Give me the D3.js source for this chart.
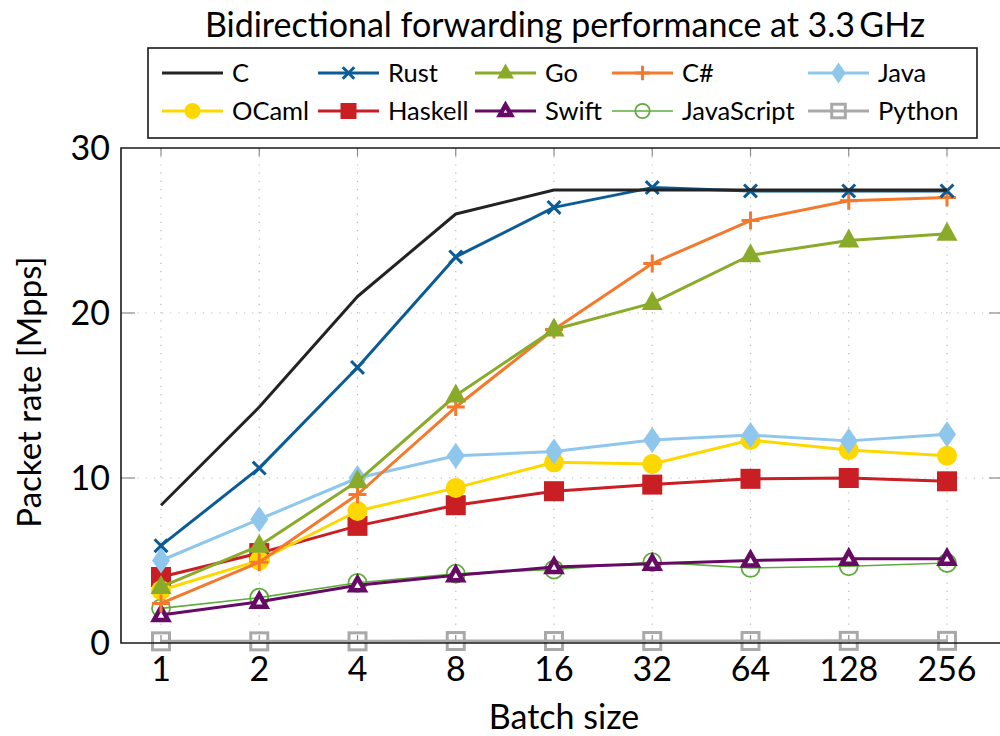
<!DOCTYPE html>
<html>
<head>
  <meta charset="utf-8">
  <style type="text/css">
    body { margin: 0; background: #fff; }
    svg { display: block; font-family: "Lato", "Liberation Sans", sans-serif; }
    .grid line { stroke: #b8b8b8; stroke-width: 1.2; stroke-dasharray: 1.2,7; }
  </style>
  <script src="https://d3js.org/d3.v7.min.js"></script>
</head>
<body>
<script type="text/javascript">
  "use strict";

  // data (Mpps)
  var batchSizes = [1, 2, 4, 8, 16, 32, 64, 128, 256];
  var yTicks = [0, 10, 20, 30];

  var cRate          = [8.35, 14.3, 21.0, 26.0, 27.45, 27.45, 27.45, 27.45, 27.45];
  var rustRate       = [5.9, 10.6, 16.7, 23.4, 26.4, 27.6, 27.4, 27.4, 27.4];
  var goRate         = [3.4, 5.9, 9.8, 15.0, 19.0, 20.6, 23.5, 24.4, 24.8];
  var csharpRate     = [2.4, 4.9, 9.0, 14.3, 19.0, 23.0, 25.6, 26.8, 27.0];
  var javaRate       = [5.0, 7.5, 10.0, 11.35, 11.6, 12.3, 12.6, 12.25, 12.65];
  var ocamlRate      = [3.2, 5.0, 8.0, 9.4, 10.95, 10.85, 12.3, 11.7, 11.35];
  var haskellRate    = [4.0, 5.45, 7.1, 8.35, 9.2, 9.6, 9.95, 10.0, 9.8];
  var swiftRate      = [1.7, 2.5, 3.5, 4.1, 4.6, 4.8, 5.0, 5.1, 5.1];
  var javascriptRate = [2.1, 2.75, 3.65, 4.2, 4.45, 4.9, 4.55, 4.65, 4.85];
  var pythonRate     = [0.1, 0.1, 0.1, 0.12, 0.12, 0.12, 0.12, 0.13, 0.13];

  var series = [
    { name: "C",          values: cRate,          color: "#232323", mark: "none",     width: 3 },
    { name: "Rust",       values: rustRate,       color: "#0b5c96", mark: "x",        width: 3 },
    { name: "Go",         values: goRate,         color: "#8aab2a", mark: "triangle", width: 3 },
    { name: "C#",         values: csharpRate,     color: "#f5792c", mark: "plus",     width: 3 },
    { name: "Java",       values: javaRate,       color: "#8ec6ec", mark: "diamond",  width: 3 },
    { name: "OCaml",      values: ocamlRate,      color: "#fcd800", mark: "circle",   width: 3 },
    { name: "Haskell",    values: haskellRate,    color: "#c81e24", mark: "square",   width: 3 },
    { name: "Swift",      values: swiftRate,      color: "#660a66", mark: "otriangle",width: 3 },
    { name: "JavaScript", values: javascriptRate, color: "#5eac3c", mark: "ocircle",  width: 1.6 },
    { name: "Python",     values: pythonRate,     color: "#a9a9a9", mark: "osquare",  width: 3 }
  ];

  var W = 1000, H = 736;
  var box = { left: 121, right: 1003, top: 148, bottom: 643 };

  var svg = d3.select("body").append("svg")
      .attr("width", W)
      .attr("height", H);

  var x = d3.scalePoint().domain(batchSizes).range([161, 947]);
  var y = d3.scaleLinear().domain([0, 30]).range([box.bottom, box.top]);

  // grid
  var grid = svg.append("g").attr("class", "grid");
  grid.selectAll("line.gx").data(batchSizes).enter().append("line")
      .attr("x1", function(d){ return x(d); }).attr("x2", function(d){ return x(d); })
      .attr("y1", box.top).attr("y2", box.bottom);
  grid.selectAll("line.gy").data([10, 20]).enter().append("line")
      .attr("x1", box.left).attr("x2", box.right)
      .attr("y1", function(d){ return y(d); }).attr("y2", function(d){ return y(d); });

  // little tick marks on the inside of the frame
  var ticks = svg.append("g").attr("stroke", "#8a8a8a").attr("stroke-width", 1.2);
  batchSizes.forEach(function(b) {
    ticks.append("line").attr("x1", x(b)).attr("x2", x(b)).attr("y1", box.top).attr("y2", box.top + 8);
    ticks.append("line").attr("x1", x(b)).attr("x2", x(b)).attr("y1", box.bottom).attr("y2", box.bottom - 8);
  });
  [10, 20].forEach(function(v) {
    ticks.append("line").attr("x1", box.left).attr("x2", box.left + 14).attr("y1", y(v)).attr("y2", y(v));
    ticks.append("line").attr("x1", box.right).attr("x2", box.right - 14).attr("y1", y(v)).attr("y2", y(v));
  });

  // marker drawing
  function drawMark(g, mark, color, cx, cy, scale) {
    var s = scale || 1;
    if (mark === "x") {
      g.append("path").attr("d", d3.symbol().type(d3.symbolX).size(110 * s)())
        .attr("transform", "translate(" + cx + "," + cy + ")")
        .attr("stroke", color).attr("stroke-width", 3).attr("fill", "none");
    } else if (mark === "plus") {
      g.append("path").attr("d", "M-9,0H9M0,-9V9")
        .attr("transform", "translate(" + cx + "," + cy + ") scale(" + s + ")")
        .attr("stroke", color).attr("stroke-width", 3 / s).attr("fill", "none");
    } else if (mark === "triangle") {
      g.append("path").attr("d", "M0,-12L10.5,7L-10.5,7Z")
        .attr("transform", "translate(" + cx + "," + cy + ") scale(" + s + ")")
        .attr("fill", color);
    } else if (mark === "otriangle") {
      g.append("path").attr("d", "M0,-7.5L7,5L-7,5Z")
        .attr("transform", "translate(" + cx + "," + cy + ") scale(" + s + ")")
        .attr("fill", "#fff").attr("stroke", color).attr("stroke-width", 4.5 / s)
        .attr("stroke-linejoin", "miter");
    } else if (mark === "diamond") {
      g.append("path").attr("d", "M0,-13L9,0L0,13L-9,0Z")
        .attr("transform", "translate(" + cx + "," + cy + ") scale(" + s + ")")
        .attr("fill", color);
    } else if (mark === "circle") {
      g.append("circle").attr("cx", cx).attr("cy", cy).attr("r", 10 * s).attr("fill", color);
    } else if (mark === "ocircle") {
      g.append("circle").attr("cx", cx).attr("cy", cy).attr("r", 9 * s)
        .attr("fill", "none").attr("stroke", color).attr("stroke-width", 1.8);
    } else if (mark === "square") {
      g.append("rect").attr("x", cx - 10 * s).attr("y", cy - 10 * s)
        .attr("width", 20 * s).attr("height", 20 * s).attr("fill", color);
    } else if (mark === "osquare") {
      g.append("rect").attr("x", cx - 8.5 * s).attr("y", cy - 8.5 * s)
        .attr("width", 17 * s).attr("height", 17 * s)
        .attr("fill", "none").attr("stroke", color).attr("stroke-width", 3);
    }
  }

  // series lines and marks
  var line = d3.line()
      .x(function(d, i){ return x(batchSizes[i]); })
      .y(function(d){ return y(d); });

  var plot = svg.append("g");
  // draw in reverse so C / Rust end up on top like the original
  series.slice().reverse().forEach(function(s) {
    var g = plot.append("g");
    g.append("path").datum(s.values)
      .attr("d", line)
      .attr("fill", "none")
      .attr("stroke", s.color)
      .attr("stroke-width", s.width)
      .attr("stroke-linejoin", "round");
    s.values.forEach(function(v, i) {
      drawMark(g, s.mark, s.color, x(batchSizes[i]), y(v));
    });
  });

  // frame
  svg.append("path")
    .attr("d", "M" + box.right + "," + box.top + "H" + box.left + "V" + box.bottom + "H" + box.right)
    .attr("fill", "none").attr("stroke", "#1a1a1a").attr("stroke-width", 1.6);

  // axis labels
  svg.append("g").selectAll("text").data(yTicks).enter().append("text")
      .attr("x", 110).attr("y", function(d){ return y(d) + 12; })
      .attr("text-anchor", "end")
      .attr("font-size", 34)
      .text(function(d){ return d; });

  svg.append("g").selectAll("text").data(batchSizes).enter().append("text")
      .attr("x", function(d){ return x(d); }).attr("y", 681)
      .attr("text-anchor", "middle")
      .attr("font-size", 34)
      .text(function(d){ return d; });

  svg.append("text")
      .attr("x", 564).attr("y", 729)
      .attr("text-anchor", "middle")
      .attr("font-size", 34)
      .text("Batch size");

  svg.append("text")
      .attr("transform", "translate(41,392) rotate(-90)")
      .attr("text-anchor", "middle")
      .attr("font-size", 33)
      .text("Packet rate [Mpps]");

  svg.append("text")
      .attr("x", 565).attr("y", 37)
      .attr("text-anchor", "middle")
      .attr("font-size", 34)
      .text("Bidirectional forwarding performance at 3.3\u2009GHz");

  // legend
  var legend = svg.append("g");
  legend.append("rect")
      .attr("x", 148).attr("y", 48).attr("width", 829).attr("height", 90)
      .attr("fill", "#fff").attr("stroke", "#1a1a1a").attr("stroke-width", 1.6);

  var colX = [162, 318, 475, 612, 808];
  var rowY = [73, 111];
  series.forEach(function(s, i) {
    var lx = colX[i % 5], ly = rowY[Math.floor(i / 5)];
    var g = legend.append("g");
    g.append("line").attr("x1", lx).attr("x2", lx + 61).attr("y1", ly).attr("y2", ly)
      .attr("stroke", s.color).attr("stroke-width", s.width);
    drawMark(g, s.mark, s.color, lx + 30.5, ly, 0.8);
    g.append("text").attr("x", lx + 70).attr("y", ly + 9)
      .attr("font-size", 25.5)
      .text(s.name);
  });
</script>
</body>
</html>
